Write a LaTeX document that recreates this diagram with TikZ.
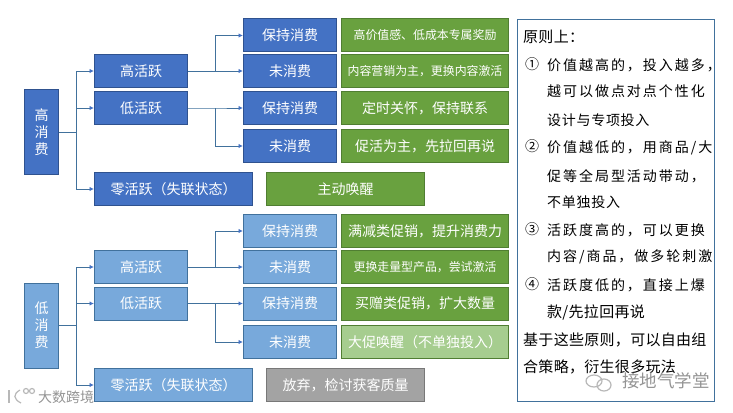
\documentclass[tikz,border=0pt]{standalone}
\usepackage{fontspec}
\setmainfont{Noto Sans CJK SC}
\usepackage{tikz}
\usetikzlibrary{arrows.meta}
\definecolor{darkblue}{HTML}{4472C4}
\definecolor{darkedge}{HTML}{2F528F}
\definecolor{lightblue}{HTML}{78A9DB}
\definecolor{lightedge}{HTML}{41719C}
\definecolor{leafgreen}{HTML}{69A13F}
\definecolor{greenedge}{HTML}{507E32}
\definecolor{palegreen}{HTML}{A6CD8F}
\definecolor{midgray}{HTML}{A3A3A3}
\definecolor{grayedge}{HTML}{787878}
\tikzset{
  basebox/.style={draw, line width=1pt, text=white, inner sep=0pt, align=center, font=\fontsize{14}{17}\selectfont},
  hibox/.style={basebox, fill=darkblue, draw=darkedge},
  lobox/.style={basebox, fill=lightblue, draw=lightedge},
  tallbox/.style={minimum width=34pt, minimum height=85pt},
  midbox/.style={minimum width=93pt, minimum height=33pt},
  widebox/.style={minimum width=158pt, minimum height=33pt},
  tipbox/.style={basebox, fill=leafgreen, draw=greenedge, minimum width=167pt, minimum height=33pt},
  wakebox/.style={basebox, fill=leafgreen, draw=greenedge, minimum width=158pt, minimum height=33pt},
  smalltext/.style={font=\fontsize{11.9}{14}\selectfont},
  conn/.style={draw=lightedge, line width=1pt, -{Latex[length=4.5pt,width=4.5pt,color=darkblue]}},
  ruletext/.style={anchor=west, inner sep=0pt, text=black, font=\fontsize{14}{17}\selectfont\addfontfeature{LetterSpace=14}},
  ruleshort/.style={anchor=west, inner sep=0pt, text=black, font=\fontsize{14}{17}\selectfont\addfontfeature{LetterSpace=5}},
  rulewide/.style={anchor=west, inner sep=0pt, text=black, font=\fontsize{15}{17}\selectfont\addfontfeature{LetterSpace=2}},
  rulenum/.style={anchor=center, inner sep=0pt, text=black, font=\fontsize{14}{17}\selectfont},
  wmark/.style={anchor=west, inner sep=0pt, text=black!42},
  wlogo/.style={draw=black!28, line width=1.2pt}
}
\begin{document}
\begin{tikzpicture}[x=1pt, y=-1pt]
\useasboundingbox (0,0) rectangle (733,412);
% upper half
\node[hibox, tallbox] (hiSpend) at (41.5,132) {高\\消\\费};
\node[hibox, midbox] (hiHigh) at (141,71) {高活跃};
\node[hibox, midbox] (hiLow) at (141,108) {低活跃};
\node[hibox, widebox] (hiZero) at (173.5,189) {零活跃（失联状态）};
\node[hibox, midbox] (hiKeepA) at (290,35.5) {保持消费};
\node[hibox, midbox] (hiNoneA) at (290,71) {未消费};
\node[hibox, midbox] (hiKeepB) at (290,108) {保持消费};
\node[hibox, midbox] (hiNoneB) at (290,146) {未消费};
\node[tipbox, smalltext] (tipA) at (425,35.5) {高价值感、低成本专属奖励};
\node[tipbox, smalltext] (tipB) at (425,71) {内容营销为主，更换内容激活};
\node[tipbox] (tipC) at (425,108) {定时关怀，保持联系};
\node[tipbox] (tipD) at (425,146) {促活为主，先拉回再说};
\node[wakebox] (tipE) at (345.5,189) {主动唤醒};
% lower half
\node[lobox, tallbox] (loSpend) at (41.5,325.5) {低\\消\\费};
\node[lobox, midbox] (loHigh) at (141,267) {高活跃};
\node[lobox, midbox] (loLow) at (141,303.5) {低活跃};
\node[lobox, widebox] (loZero) at (173.5,385) {零活跃（失联状态）};
\node[lobox, midbox] (loKeepA) at (290,231) {保持消费};
\node[lobox, midbox] (loNoneA) at (290,267) {未消费};
\node[lobox, midbox] (loKeepB) at (290,303.5) {保持消费};
\node[lobox, midbox] (loNoneB) at (290,342) {未消费};
\node[tipbox] (tipF) at (425,231) {满减类促销，提升消费力};
\node[tipbox, smalltext] (tipG) at (425,267) {更换走量型产品，尝试激活};
\node[tipbox] (tipH) at (425,303.5) {买赠类促销，扩大数量};
\node[tipbox, fill=palegreen] (tipI) at (425,342) {大促唤醒（不单独投入）};
\node[wakebox, fill=midgray, draw=grayedge] (tipJ) at (345.5,385) {放弃，检讨获客质量};
% connectors
\coordinate (hiFork) at (76,132);
\coordinate (hiForkA) at (215,71);
\coordinate (hiForkB) at (215,108);
\coordinate (loFork) at (76,325.5);
\coordinate (loForkA) at (215,267);
\coordinate (loForkB) at (215,303.5);
\draw[conn] (hiSpend.east) -- (hiFork) |- (hiHigh.west);
\draw[conn] (hiFork) |- (hiLow.west);
\draw[conn] (hiFork) |- (hiZero.west);
\draw[conn] (hiHigh.east) -- (hiForkA) |- (hiKeepA.west);
\draw[conn] (hiForkA) -- (hiNoneA.west);
\draw[conn] (hiLow.east) -- (hiForkB) -- (hiKeepB.west);
\draw[conn] (hiForkB) |- (hiNoneB.west);
\draw[conn] (loSpend.east) -- (loFork) |- (loHigh.west);
\draw[conn] (loFork) |- (loLow.west);
\draw[conn] (loFork) |- (loZero.west);
\draw[conn] (loHigh.east) -- (loForkA) |- (loKeepA.west);
\draw[conn] (loForkA) -- (loNoneA.west);
\draw[conn] (loLow.east) -- (loForkB) -- (loKeepB.west);
\draw[conn] (loForkB) |- (loNoneB.west);
% right panel
\node[draw=lightedge, line width=1pt, fill=white, minimum width=197pt, minimum height=381.5pt] (panel) at (616,210.25) {};
\node[rulewide] (ruleHead) at (523,37) {原则上：};
\node[rulenum] (numA) at (532,64) {①};
\node[ruletext] (ruleA) at (547,65) {价值越高的，投入越多，};
\node[ruletext] (ruleB) at (547,91.5) {越可以做点对点个性化};
\node[ruleshort] (ruleC) at (547,120) {设计与专项投入};
\node[rulenum] (numB) at (532,146) {②};
\node[ruletext] (ruleD) at (547,147.5) {价值越低的，用商品/大};
\node[ruletext] (ruleE) at (547,176) {促等全局型活动带动，};
\node[ruleshort] (ruleF) at (547,202) {不单独投入};
\node[rulenum] (numC) at (532,229) {③};
\node[ruletext] (ruleG) at (547,230) {活跃度高的，可以更换};
\node[ruletext] (ruleH) at (547,257) {内容/商品，做多轮刺激};
\node[rulenum] (numD) at (532,284) {④};
\node[ruletext] (ruleI) at (547,285) {活跃度低的，直接上爆};
\node[rulewide] (ruleJ) at (547,312) {款/先拉回再说};
\node[rulewide] (ruleK) at (523,340) {基于这些原则，可以自由组};
\node[rulewide] (ruleL) at (523,367) {合策略，衍生很多玩法};
% watermarks
\node[wmark, font=\fontsize{14}{17}\selectfont] (markLeft) at (38,397) {大数跨境};
\node[wmark, font=\fontsize{17.5}{20}\selectfont] (markRight) at (622,381) {接地气学堂};
\draw[wlogo] (9,390) -- (9,403);
\draw[wlogo] (20,390) .. controls (13,394) and (13,399) .. (21,403);
\draw[wlogo] (26,391) circle (2.5);
\draw[wlogo] (32,391) circle (2.5);
\draw[wlogo] (594,381) ellipse (8 and 6);
\draw[wlogo] (604,385) ellipse (7 and 6);
\end{tikzpicture}
\end{document}
